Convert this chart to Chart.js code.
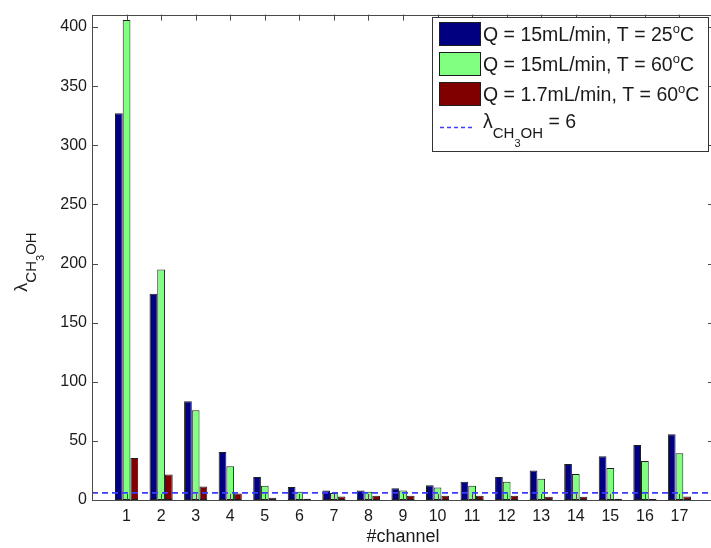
<!DOCTYPE html>
<html>
<head>
<meta charset="utf-8">
<title>λ CH3OH per channel</title>
<script src="https://cdn.jsdelivr.net/npm/chart.js@4/dist/chart.umd.min.js"></script>
<style>
  html, body { margin: 0; padding: 0; background: #fff; overflow: hidden; }
  #wrap { width: 711px; height: 548px; overflow: hidden; }
  canvas { display: block; }
</style>
</head>
<body>
<div id="wrap"><canvas id="c" width="716" height="548"></canvas></div>
<script>
// Channel numbers and the three operating conditions
const channels = [1, 2, 3, 4, 5, 6, 7, 8, 9, 10, 11, 12, 13, 14, 15, 16, 17];
const q15T25 = [327, 174.5, 83.5, 40.5, 19.5, 11, 8, 8, 10, 12.5, 15.5, 19.5, 25, 30.5, 37, 46.5, 55.5];
const q15T60 = [406, 195, 76, 28.5, 12, 7, 6, 7, 8, 10.5, 12, 15.5, 18, 22, 27, 33, 39.5];
const q17T60 = [35.5, 21.5, 11.5, 5.5, 2, 1, 3, 3.5, 3.5, 3.5, 3.5, 3.5, 2.8, 2.8, 1.1, 1.1, 3];
const threshold = 6;

// Axis ranges and tick labels
const xRange = [0, 18];
const yRange = [0, 410.5];
const xTicks = channels;
const yTicks = [0, 50, 100, 150, 200, 250, 300, 350, 400];

const FONT = '"Liberation Sans", Arial, Helvetica, sans-serif';
const C_BLUE = 'rgb(0,0,128)';
const C_GREEN = 'rgb(128,255,128)';
const C_RED = 'rgb(128,0,0)';
const C_EDGE = '#1e1e1e';
const C_DASH = '#3c3cff';
const C_AXIS = '#4a4a4a';

const toPoints = vals => channels.map((c, i) => ({ x: c, y: vals[i] }));

// Draw a run of text pieces with individual sizes and baseline shifts
function drawRuns(ctx, x, y, runs) {
  let cx = x;
  for (const r of runs) {
    ctx.font = r.size + 'px ' + FONT;
    ctx.fillText(r.t, cx, y + (r.dy || 0));
    cx += ctx.measureText(r.t).width + (r.gap || 0);
  }
  return cx - x;
}
function measureRuns(ctx, runs) {
  let w = 0;
  for (const r of runs) {
    ctx.font = r.size + 'px ' + FONT;
    w += ctx.measureText(r.t).width + (r.gap || 0);
  }
  return w;
}

const lambdaRuns = (main, sub, subsub) => [
  { t: 'λ', size: main },
  { t: 'CH', size: sub, dy: Math.round(main * 0.5) },
  { t: '3', size: subsub, dy: Math.round(main * 0.95) },
  { t: 'OH', size: sub, dy: Math.round(main * 0.5) }
];

// Box frame with inward tick marks, y-axis title and legend
const framePlugin = {
  id: 'frame',
  afterDatasetsDraw(chart) {
    const { ctx, chartArea: a, scales } = chart;
    const L = 6;
    ctx.save();
    ctx.strokeStyle = C_AXIS;
    ctx.lineWidth = 1;
    ctx.beginPath();
    for (const v of xTicks) {
      const px = Math.round(scales.x.getPixelForValue(v)) + 0.5;
      ctx.moveTo(px, a.bottom); ctx.lineTo(px, a.bottom - L);
      ctx.moveTo(px, a.top); ctx.lineTo(px, a.top + L);
    }
    for (const v of yTicks) {
      const py = Math.round(scales.y.getPixelForValue(v)) + 0.5;
      ctx.moveTo(a.left, py); ctx.lineTo(a.left + L, py);
      ctx.moveTo(a.right, py); ctx.lineTo(a.right - L, py);
    }
    ctx.stroke();
    ctx.strokeRect(Math.round(a.left) + 0.5, Math.round(a.top) + 0.5,
                   Math.round(a.right - a.left) - 1, Math.round(a.bottom - a.top));
    ctx.restore();
  },
  afterDraw(chart) {
    const { ctx } = chart;
    ctx.save();
    ctx.fillStyle = '#1a1a1a';
    ctx.textBaseline = 'alphabetic';
    ctx.textAlign = 'left';

    // rotated y-axis title
    const yRuns = lambdaRuns(18, 15, 11);
    const w = measureRuns(ctx, yRuns);
    ctx.save();
    ctx.translate(27, 262 + w / 2);
    ctx.rotate(-Math.PI / 2);
    drawRuns(ctx, 0, 0, yRuns);
    ctx.restore();

    // legend
    const bx = 432.5, by = 17.5, bw = 276, bh = 134;
    ctx.fillStyle = '#fff';
    ctx.fillRect(bx, by, bw, bh);
    ctx.strokeStyle = '#333';
    ctx.lineWidth = 1;
    ctx.strokeRect(bx, by, bw, bh);

    const entries = [
      { color: C_BLUE, runs: [{ t: 'Q = 15mL/min, T = 25', size: 19.5 }, { t: 'o', size: 13, dy: -8 }, { t: 'C', size: 19.5 }] },
      { color: C_GREEN, runs: [{ t: 'Q = 15mL/min, T = 60', size: 19.5 }, { t: 'o', size: 13, dy: -8 }, { t: 'C', size: 19.5 }] },
      { color: C_RED, runs: [{ t: 'Q = 1.7mL/min, T = 60', size: 19.5 }, { t: 'o', size: 13, dy: -8 }, { t: 'C', size: 19.5 }] }
    ];
    entries.forEach((e, i) => {
      const sy = 22.5 + i * 30;
      ctx.fillStyle = e.color;
      ctx.fillRect(439.5, sy, 41, 23);
      ctx.strokeStyle = C_EDGE;
      ctx.strokeRect(439.5, sy, 41, 23);
      ctx.fillStyle = '#1a1a1a';
      drawRuns(ctx, 483, 41 + i * 30, e.runs);
    });
    ctx.strokeStyle = C_DASH;
    ctx.lineWidth = 1.5;
    ctx.setLineDash([4, 3]);
    ctx.beginPath();
    ctx.moveTo(440, 127.5); ctx.lineTo(474, 127.5);
    ctx.stroke();
    ctx.setLineDash([]);
    ctx.fillStyle = '#1a1a1a';
    const lw = drawRuns(ctx, 483, 128, lambdaRuns(19.5, 15, 11));
    drawRuns(ctx, 483 + lw, 128, [{ t: ' = 6', size: 19.5 }]);
    ctx.restore();
  }
};

const barStyle = { borderColor: C_EDGE, borderWidth: 1, borderSkipped: false,
                   barPercentage: 1, categoryPercentage: 0.67, order: 1 };

new Chart(document.getElementById('c'), {
  type: 'bar',
  data: {
    datasets: [
      Object.assign({ label: 'Q = 15mL/min, T = 25°C', data: toPoints(q15T25), backgroundColor: C_BLUE }, barStyle),
      Object.assign({ label: 'Q = 15mL/min, T = 60°C', data: toPoints(q15T60), backgroundColor: C_GREEN }, barStyle),
      Object.assign({ label: 'Q = 1.7mL/min, T = 60°C', data: toPoints(q17T60), backgroundColor: C_RED }, barStyle),
      {
        type: 'line', label: 'λCH3OH = 6',
        data: [{ x: xRange[0], y: threshold }, { x: xRange[1], y: threshold }],
        borderColor: C_DASH, borderWidth: 1.6, borderDash: [6, 4],
        pointRadius: 0, fill: false, order: 0
      }
    ]
  },
  options: {
    responsive: false,
    animation: false,
    devicePixelRatio: 1,
    layout: { padding: { top: 10, right: 2, left: 0, bottom: 0 } },
    plugins: { legend: { display: false }, tooltip: { enabled: false } },
    scales: {
      x: {
        type: 'linear', min: xRange[0], max: xRange[1], offset: false,
        grid: { display: false, drawTicks: false },
        border: { display: false },
        afterBuildTicks: s => { s.ticks = xTicks.map(v => ({ value: v })); },
        afterFit: s => { s.height = 48; },
        ticks: { color: '#1a1a1a', font: { family: FONT, size: 16 }, padding: 7, maxRotation: 0, autoSkip: false },
        title: { display: true, text: '#channel', color: '#1a1a1a',
                 font: { family: FONT, size: 18 }, padding: { top: 0, bottom: 0 } }
      },
      y: {
        min: yRange[0], max: yRange[1],
        grid: { display: false, drawTicks: false },
        border: { display: false },
        afterBuildTicks: s => { s.ticks = yTicks.map(v => ({ value: v })); },
        afterFit: s => { s.width = 92; },
        ticks: { color: '#1a1a1a', font: { family: FONT, size: 16 }, padding: 5 }
      }
    }
  },
  plugins: [framePlugin]
});
</script>
</body>
</html>
